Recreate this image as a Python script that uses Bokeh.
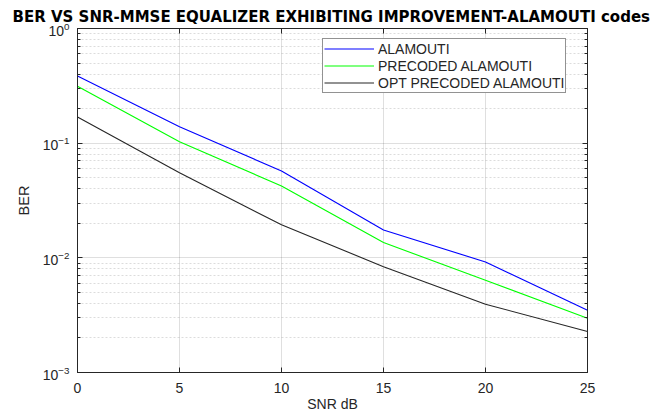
from bokeh.plotting import figure
from bokeh.models import (Range1d, FixedTicker, LinearAxis, LogAxis, Legend,
                          LegendItem, CustomJSTickFormatter)
from bokeh.embed import file_html
from bokeh.resources import INLINE

# ---- data ----
snr_db = [0, 5, 10, 15, 20, 25]
ber_alamouti = [0.385, 0.139, 0.0572, 0.0175, 0.0092, 0.00349]
ber_precoded = [0.313, 0.103, 0.0423, 0.0136, 0.00637, 0.00297]
ber_opt_precoded = [0.169, 0.0553, 0.0194, 0.00837, 0.00394, 0.00228]
series_names = ["ALAMOUTI", "PRECODED ALAMOUTI", "OPT PRECODED ALAMOUTI"]
series_colors = ["#0000ff", "#00ff00", "#262626"]
x_ticks = [0, 5, 10, 15, 20, 25]
y_decades = [-3, -2, -1, 0]
title_text = "BER VS SNR-MMSE EQUALIZER EXHIBITING IMPROVEMENT-ALAMOUTI codes"
x_label = "SNR dB"
y_label = "BER"

y_ticks = [10.0 ** e for e in y_decades]
y_minor = [m * 10.0 ** e for e in y_decades[:-1] for m in range(2, 10)]

AX = "#262626"
FONT = "Liberation Sans"

p = figure(width=651, height=414, y_axis_type="log",
           x_range=Range1d(x_ticks[0], x_ticks[-1]),
           y_range=Range1d(y_ticks[0], y_ticks[-1]),
           output_backend="svg", toolbar_location=None,
           min_border_left=77, min_border_right=64,
           min_border_top=28, min_border_bottom=42)

p.background_fill_color = "white"
p.border_fill_color = "white"
p.outline_line_color = AX
p.outline_line_width = 1

# title
p.title.text = title_text
p.title.text_font = "DejaVu Sans"
p.title.text_font_style = "bold"
p.title.text_font_size = "15px"
p.title.text_color = "black"
p.title.align = "left"
p.title.offset = -65
p.title.standoff = 6

xt = FixedTicker(ticks=x_ticks, minor_ticks=[])
yt = FixedTicker(ticks=y_ticks, minor_ticks=y_minor)

def style_axis(ax):
    ax.axis_line_color = AX
    ax.axis_line_width = 1
    ax.major_tick_line_color = AX
    ax.minor_tick_line_color = AX
    ax.major_tick_in = 5
    ax.major_tick_out = 0
    ax.minor_tick_in = 3
    ax.minor_tick_out = 0
    ax.major_label_text_font = FONT
    ax.major_label_text_color = AX
    ax.axis_label_text_font = FONT
    ax.axis_label_text_color = AX
    ax.axis_label_text_font_style = "normal"

xa = p.xaxis[0]
xa.ticker = xt
style_axis(xa)
xa.major_label_text_font_size = "14px"
xa.major_label_standoff = 10
xa.axis_label = x_label
xa.axis_label_text_font_size = "14px"
xa.axis_label_standoff = 0

ya = p.yaxis[0]
ya.ticker = yt
style_axis(ya)
ya.major_label_text_font_size = "14px"
ya.major_label_standoff = 8
ya.axis_label = y_label
ya.axis_label_text_font_size = "14.5px"
ya.axis_label_standoff = 8

blank = CustomJSTickFormatter(code="return ''")
top_ax = LinearAxis(ticker=xt, formatter=blank)
style_axis(top_ax)
top_ax.major_label_standoff = 0
p.add_layout(top_ax, "above")
right_ax = LogAxis(ticker=yt, formatter=CustomJSTickFormatter(code="return ''"))
style_axis(right_ax)
right_ax.major_label_standoff = 0
p.add_layout(right_ax, "right")

# grids
p.xgrid.ticker = xt
p.ygrid.ticker = yt
p.xgrid.grid_line_color = AX
p.xgrid.grid_line_alpha = 0.15
p.ygrid.grid_line_color = AX
p.ygrid.grid_line_alpha = 0.15
p.ygrid.minor_grid_line_color = AX
p.ygrid.minor_grid_line_alpha = 0.16
p.ygrid.minor_grid_line_dash = "2 2"

series = [ber_alamouti, ber_precoded, ber_opt_precoded]
items = []
for name, color, vals in zip(series_names, series_colors, series):
    r = p.line(snr_db, vals, line_color=color, line_width=1.1)
    items.append(LegendItem(label=name, renderers=[r]))

legend = Legend(items=items, location=(245, 279),
                label_text_font=FONT, label_text_font_size="14px",
                label_text_color=AX, glyph_width=50, glyph_height=17,
                label_height=17, label_standoff=4, spacing=0, padding=1,
                margin=0, border_line_color=AX, border_line_width=1,
                background_fill_color="white", background_fill_alpha=1)
p.add_layout(legend)

open("out.html", "w").write(file_html(p, INLINE))
